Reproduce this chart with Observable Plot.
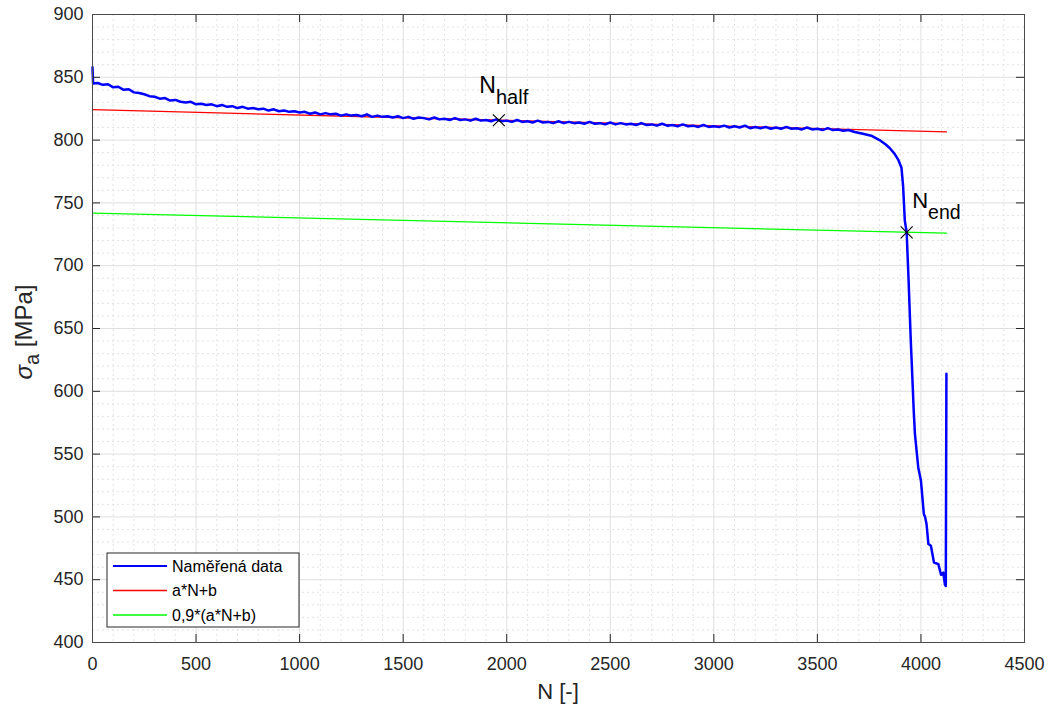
<!DOCTYPE html>
<html>
<head>
<meta charset="utf-8">
<script src="https://cdn.jsdelivr.net/npm/d3@7"></script>
<script src="https://cdn.jsdelivr.net/npm/@observablehq/plot@0.6"></script>
<style>
  html, body { margin: 0; padding: 0; background: #fff; }
  #chart { width: 1050px; height: 711px; }
</style>
</head>
<body>
<div id="chart"></div>
<script>
// ---- Data ----
const measN = [0, 3,
  25, 50, 75, 100, 125, 150, 175, 200, 225, 250, 275, 300, 325, 350, 375, 400, 425, 450, 475,
  500, 525, 550, 575, 600, 625, 650, 675, 700, 725, 750, 775, 800, 825, 850, 875, 900, 925, 950, 975,
  1000, 1025, 1050, 1075, 1100, 1125, 1150, 1175, 1200, 1225, 1250, 1275, 1300, 1325, 1350, 1375, 1400, 1425, 1450, 1475,
  1500, 1525, 1550, 1575, 1600, 1625, 1650, 1675, 1700, 1725, 1750, 1775, 1800, 1825, 1850, 1875, 1900, 1925, 1950, 1975,
  2000, 2025, 2050, 2075, 2100, 2125, 2150, 2175, 2200, 2225, 2250, 2275, 2300, 2325, 2350, 2375, 2400, 2425, 2450, 2475,
  2500, 2525, 2550, 2575, 2600, 2625, 2650, 2675, 2700, 2725, 2750, 2775, 2800, 2825, 2850, 2875, 2900, 2925, 2950, 2975,
  3000, 3025, 3050, 3075, 3100, 3125, 3150, 3175, 3200, 3225, 3250, 3275, 3300, 3325, 3350, 3375, 3400, 3425, 3450, 3475,
  3500, 3525, 3550, 3575, 3600, 3625, 3650,
  3680, 3720, 3760, 3800, 3830, 3850, 3873, 3890,
  3906, 3914, 3922, 3931, 3940, 3951, 3960, 3965, 3971, 3987, 4000, 4014, 4020, 4027, 4036, 4048, 4063, 4084, 4097, 4108, 4116, 4120, 4123];
const measS = [858, 845,
  845.5, 844, 844.5, 842, 842.5, 840, 840.5, 838, 837.5, 836.5, 835, 834.5, 833, 833.5, 831.5, 832, 830.5, 830, 830.5,
  828.5, 829, 828, 828.5, 827, 828, 826.5, 827, 825.5, 826.5, 825, 825.5, 824.5, 825, 823.5, 824.5, 823, 823.5, 822.5, 823,
  822, 822.5, 821, 822, 820.5, 821.5, 820.5, 821, 819.5, 820.5, 819.5, 820, 819, 820.5, 818.5, 819.5, 818.5, 819, 818, 819,
  817.5, 818.5, 817, 818, 817.5, 816.5, 818, 816.5, 817, 816, 817.5, 816, 816.5, 815.5, 817, 815.5, 816, 815, 816.5, 815,
  815.5, 814.5, 816, 814.5, 815, 814, 815.5, 814, 814.5, 813.5, 815, 813.5, 814.5, 813.5, 814, 813, 814.5, 813, 813.5, 812.5,
  814, 812.5, 813.5, 812.5, 813, 812, 813.5, 812, 812.5, 811.5, 813, 811.5, 812, 811, 812.5, 811, 811.5, 810.5, 812, 810.5,
  811, 810.5, 811.5, 810, 811, 810, 811.5, 809.5, 810.5, 809.5, 810.5, 809, 810, 809, 810.5, 809, 809.5, 808.5, 810, 808.5,
  809, 808, 809.5, 808, 808.5, 807.5, 808,
  806.5, 805, 803.5, 800, 796.5, 793.5, 789, 784.5,
  778, 763, 736, 726.6, 690, 640, 605, 585, 566, 539.4, 528.8, 502.3, 500, 494.3, 478.4, 477, 463.7, 462.4, 453.9, 455.7, 445.9, 445, 614];

const fitN = [0, 4123];
const fitS = [824.3, 806.5];        // a*N+b
const fit90S = [741.9, 725.9];      // 0,9*(a*N+b)

const markN = [1962, 3931];
const markS = [815.8, 726.6];
const markMain = ["N", "N"];
const markSub = ["half", "end"];

const xTicks = [0, 500, 1000, 1500, 2000, 2500, 3000, 3500, 4000, 4500];
const yTicks = [400, 450, 500, 550, 600, 650, 700, 750, 800, 850, 900];
const xMinor = d3.range(0, 4501, 100).filter(v => v % 500 !== 0);
const yMinor = d3.range(400, 901, 10).filter(v => v % 50 !== 0);

const legendLabels = ["Naměřená data", "a*N+b", "0,9*(a*N+b)"];
const legendColors = ["#0000ff", "#ff0000", "#00ff00"];
const legendWidths = [2, 1.3, 1.3];

// ---- Tables ----
const meas = measN.map((n, i) => ({N: n, S: measS[i]}));
const fit = fitN.map((n, i) => ({N: n, S: fitS[i]}));
const fit90 = fitN.map((n, i) => ({N: n, S: fit90S[i]}));
const marks = markN.map((n, i) => ({N: n, S: markS[i]}));

const W = 1050, H = 711;
const mL = 92, mR = 26, mT = 14, mB = 69;
const fw = W - mL - mR, fh = H - mT - mB;
const tick = 8;
const FONT = "'Liberation Sans', Arial, Helvetica, sans-serif";

const plot = Plot.plot({
  width: W, height: H,
  marginLeft: mL, marginRight: mR, marginTop: mT, marginBottom: mB,
  x: {domain: [0, 4500], label: null},
  y: {domain: [400, 900], label: null},
  style: {fontFamily: FONT, fontSize: "18px", color: "#262626", background: "#fff"},
  marks: [
    Plot.ruleX(xMinor, {stroke: "#dcdcdc", strokeWidth: 0.8, strokeDasharray: "2,3"}),
    Plot.ruleY(yMinor, {stroke: "#dcdcdc", strokeWidth: 0.8, strokeDasharray: "2,3"}),
    Plot.ruleX(xTicks, {stroke: "#dfdfdf", strokeWidth: 1}),
    Plot.ruleY(yTicks, {stroke: "#dfdfdf", strokeWidth: 1}),
    Plot.line(fit, {x: "N", y: "S", stroke: "#ff0000", strokeWidth: 1.3}),
    Plot.line(fit90, {x: "N", y: "S", stroke: "#00ff00", strokeWidth: 1.3}),
    Plot.line(meas, {x: "N", y: "S", stroke: "#0000ff", strokeWidth: 2.5, strokeLinejoin: "round"}),
    Plot.dot(marks, {x: "N", y: "S", symbol: "times", r: 5.5, stroke: "#000", strokeWidth: 1.1}),
    // inward ticks on all four sides
    Plot.ruleX(xTicks, {stroke: "#262626", insetTop: fh - tick}),
    Plot.ruleX(xTicks, {stroke: "#262626", insetBottom: fh - tick}),
    Plot.ruleY(yTicks, {stroke: "#262626", insetRight: fw - tick}),
    Plot.ruleY(yTicks, {stroke: "#262626", insetLeft: fw - tick}),
    Plot.frame({stroke: "#4a4a4a", strokeWidth: 1}),
    Plot.axisX(xTicks, {tickSize: 0, tickPadding: 15, tickFormat: d => String(d), fill: "#262626", fontSize: 18, label: null}),
    Plot.axisY(yTicks, {tickSize: 0, tickPadding: 9, tickFormat: d => String(d), fill: "#262626", fontSize: 18, label: null})
  ]
});

document.getElementById("chart").appendChild(plot);

const svg = d3.select(plot);
const sx = plot.scale("x"), sy = plot.scale("y");

// annotations N_half, N_end
const offs = [{dx: -19, dy: -27, size: 23, sub: 20}, {dx: 6, dy: -24, size: 22, sub: 19.5}];
markN.forEach((n, i) => {
  const t = svg.append("text")
    .attr("x", sx.apply(n) + offs[i].dx)
    .attr("y", sy.apply(markS[i]) + offs[i].dy)
    .attr("text-anchor", "start")
    .attr("font-family", FONT)
    .attr("font-size", offs[i].size)
    .attr("fill", "#000");
  t.append("tspan").text(markMain[i]);
  t.append("tspan").attr("dy", 11.5).attr("font-size", offs[i].sub).text(markSub[i]);
});

// axis titles
svg.append("text")
  .attr("x", mL + fw / 2).attr("y", 699)
  .attr("text-anchor", "middle")
  .attr("font-family", FONT).attr("font-size", 22).attr("fill", "#262626")
  .text("N [-]");

const yt = svg.append("text")
  .attr("transform", `translate(32,332) rotate(-90)`)
  .attr("text-anchor", "middle")
  .attr("font-family", FONT).attr("font-size", 24).attr("fill", "#262626");
yt.append("tspan").attr("font-style", "italic").text("σ");
yt.append("tspan").attr("dy", 7).attr("font-size", 20).text("a");
yt.append("tspan").attr("dy", -7).text(" [MPa]");

// legend
const lg = svg.append("g");
lg.append("rect").attr("x", 107).attr("y", 553).attr("width", 192).attr("height", 74)
  .attr("fill", "#fff").attr("stroke", "#262626").attr("stroke-width", 1);
legendLabels.forEach((lab, i) => {
  const y = 566 + i * 24.5;
  lg.append("line").attr("x1", 113).attr("x2", 167).attr("y1", y).attr("y2", y)
    .attr("stroke", legendColors[i]).attr("stroke-width", legendWidths[i]);
  lg.append("text").attr("x", 172).attr("y", y + 5.5)
    .attr("text-anchor", "start")
    .attr("font-family", FONT).attr("font-size", 16).attr("fill", "#000").text(lab);
});
</script>
</body>
</html>
